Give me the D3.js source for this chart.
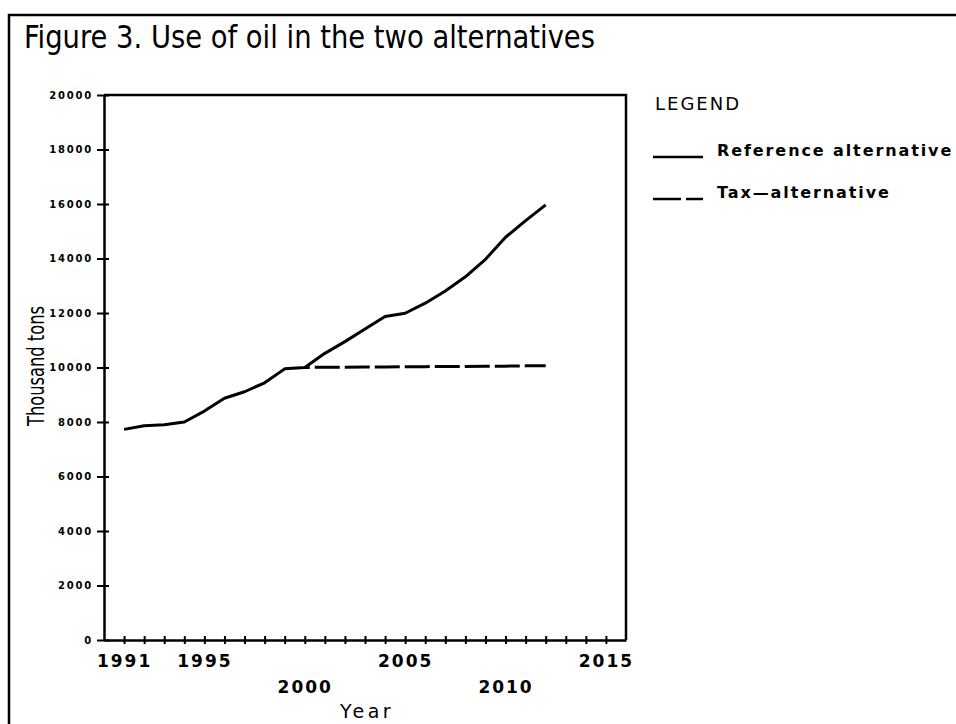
<!DOCTYPE html>
<html>
<head>
<meta charset="utf-8">
<script src="https://cdnjs.cloudflare.com/ajax/libs/d3/7.8.5/d3.min.js"></script>
<style>
  body { margin: 0; background: #fff; }
  svg { display: block; }
</style>
</head>
<body>
<svg id="chart" width="956" height="724"></svg>
<script>
// values (thousand tons)
var years = [1991, 1992, 1993, 1994, 1995, 1996, 1997, 1998, 1999, 2000, 2001,
             2002, 2003, 2004, 2005, 2006, 2007, 2008, 2009, 2010, 2011, 2012];
var referenceOil = [7730, 7860, 7900, 8000, 8400, 8870, 9110, 9440, 9950, 10000, 10520,
                    10950, 11410, 11870, 11990, 12360, 12810, 13330, 13970, 14780, 15390, 15970];

var taxYears = [2000, 2001, 2002, 2003, 2004, 2005, 2006, 2007, 2008, 2009, 2010, 2011, 2012];
var taxOil = [10000, 10010, 10010, 10020, 10020, 10030, 10030, 10040, 10040, 10050, 10050, 10060, 10060];

var yTicks = [0, 2000, 4000, 6000, 8000, 10000, 12000, 14000, 16000, 18000, 20000];
var xTicks = [1991, 1992, 1993, 1994, 1995, 1996, 1997, 1998, 1999, 2000, 2001, 2002, 2003,
              2004, 2005, 2006, 2007, 2008, 2009, 2010, 2011, 2012, 2013, 2014, 2015];
var xLabelsTop = [1991, 1995, 2005, 2015];
var xLabelsLow = [2000, 2010];

var legendItems = ["Reference alternative", "Tax\u2014alternative"];

var svg = d3.select("#chart");

var x = d3.scaleLinear().domain([1990, 2016]).range([104, 626]);
var y = d3.scaleLinear().domain([0, 20000]).range([640, 95]);

// outer frame of the page (top and left edge)
svg.append("path")
    .attr("d", "M9,724 L9,15 L956,15")
    .attr("fill", "none")
    .attr("stroke", "#000")
    .attr("stroke-width", 2.5);

svg.append("text")
    .attr("x", 24)
    .attr("y", 48)
    .attr("font-family", "'Liberation Sans Narrow', 'DejaVu Sans Condensed', sans-serif")
    .attr("font-size", 32)
    .attr("textLength", 571)
    .attr("lengthAdjust", "spacingAndGlyphs")
    .text("Figure 3. Use of oil in the two alternatives");

// plot box top + right
svg.append("path")
    .attr("d", "M" + x(1990) + "," + y(20000) + " L" + x(2016) + "," + y(20000) + " L" + x(2016) + "," + y(0))
    .attr("fill", "none")
    .attr("stroke", "#000")
    .attr("stroke-width", 2.5);

// y axis
var yAxis = svg.append("g")
    .attr("transform", "translate(" + x(1990) + ",0)")
    .call(d3.axisLeft(y).tickValues(yTicks).tickFormat(d3.format("d"))
      .tickSizeOuter(0).tickSizeInner(6).tickPadding(5));

yAxis.select(".domain").attr("stroke", "#000").attr("stroke-width", 2.5);
yAxis.selectAll(".tick line")
    .attr("x1", -7).attr("x2", 5)
    .attr("stroke", "#000").attr("stroke-width", 2);
yAxis.selectAll(".tick text")
    .attr("font-family", "'DejaVu Sans', sans-serif")
    .attr("font-weight", "bold")
    .attr("font-size", 10)
    .attr("letter-spacing", 1.8)
    .attr("fill", "#000");

// x axis
var xAxis = svg.append("g")
    .attr("transform", "translate(0," + y(0) + ")")
    .call(d3.axisBottom(x).tickValues(xTicks).tickSizeOuter(0).tickSizeInner(4)
      .tickFormat(function(d) {
        return (xLabelsTop.indexOf(d) >= 0 || xLabelsLow.indexOf(d) >= 0) ? String(d) : "";
      }));

xAxis.select(".domain").attr("stroke", "#000").attr("stroke-width", 2.5);
xAxis.selectAll(".tick line")
    .attr("y1", -4).attr("y2", 4)
    .attr("stroke", "#000").attr("stroke-width", 2);
xAxis.selectAll(".tick text")
    .attr("font-family", "'DejaVu Sans', sans-serif")
    .attr("font-weight", "bold")
    .attr("font-size", 17)
    .attr("letter-spacing", 2)
    .attr("fill", "#000")
    .attr("dy", null)
    .attr("y", function(d) { return xLabelsLow.indexOf(d) >= 0 ? 53 : 27; });

// axis titles
svg.append("text")
    .attr("transform", "translate(44,366) rotate(-90)")
    .attr("text-anchor", "middle")
    .attr("font-family", "'Liberation Sans Narrow', 'DejaVu Sans Condensed', sans-serif")
    .attr("font-size", 23)
    .attr("textLength", 120)
    .attr("lengthAdjust", "spacingAndGlyphs")
    .text("Thousand tons");

svg.append("text")
    .attr("x", 367)
    .attr("y", 718)
    .attr("text-anchor", "middle")
    .attr("font-family", "'DejaVu Sans', sans-serif")
    .attr("font-size", 19)
    .attr("letter-spacing", 3.5)
    .text("Year");

// series
var line = d3.line()
    .x(function(d) { return x(d[0]); })
    .y(function(d) { return y(d[1]); });

svg.append("path")
    .datum(d3.zip(years, referenceOil))
    .attr("d", line)
    .attr("fill", "none")
    .attr("stroke", "#000")
    .attr("stroke-width", 3)
    .attr("stroke-linejoin", "round");

svg.append("path")
    .datum(d3.zip(taxYears, taxOil))
    .attr("d", line)
    .attr("fill", "none")
    .attr("stroke", "#000")
    .attr("stroke-width", 3)
    .attr("stroke-dasharray", "25,5")
    .attr("stroke-dashoffset", 20);

// legend
svg.append("text")
    .attr("x", 655)
    .attr("y", 110)
    .attr("font-family", "'DejaVu Sans', sans-serif")
    .attr("font-size", 18)
    .attr("letter-spacing", 2)
    .text("LEGEND");

var legend = svg.append("g")
    .selectAll("g")
    .data(legendItems)
    .enter().append("g")
      .attr("transform", function(d, i) { return "translate(653," + (157 + i * 42) + ")"; });

legend.append("line")
    .attr("x1", 0).attr("x2", 50)
    .attr("y1", 0).attr("y2", 0)
    .attr("stroke", "#000")
    .attr("stroke-width", 2.5)
    .attr("stroke-dasharray", function(d, i) { return i ? "28,5,17" : null; });

legend.append("text")
    .attr("x", 64)
    .attr("y", -1)
    .attr("font-family", "'DejaVu Sans', sans-serif")
    .attr("font-weight", "bold")
    .attr("font-size", 16)
    .attr("letter-spacing", 1.9)
    .text(function(d) { return d; });
</script>
</body>
</html>
